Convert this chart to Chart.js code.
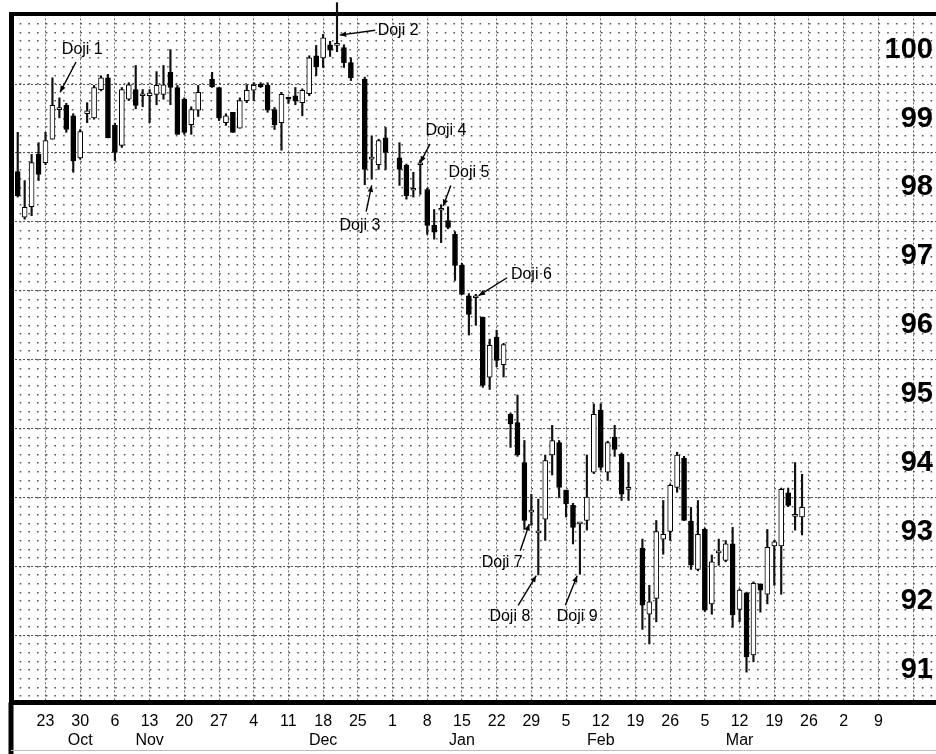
<!DOCTYPE html>
<html><head><meta charset="utf-8">
<script src="https://cdn.jsdelivr.net/npm/chart.js@4/dist/chart.umd.min.js"></script>
<style>html,body{margin:0;padding:0;background:#fff;}canvas{display:block;}</style>
</head><body>
<canvas id="c" width="936" height="754"></canvas>
<script>
// trading-day index (0 = Monday 23 Oct, 5 trading days per week, holidays skipped)
const days = [-4,-3,-2,-1,0,1,2,3,4,5,6,7,8,9,10,11,12,13,14,15,16,17,18,19,20,21,22,
  24,25,26,27,28,29,30,31,32,33,34,35,36,37,38,39,40,41,42,43,44,
  46,47,48,49,51,52,53,54,55,56,57,58,59,60,61,62,63,64,65,66,67,68,69,70,71,72,73,74,75,76,77,78,79,80,81,82,83,84,
  86,87,88,89,90,91,92,93,94,95,96,97,98,99,100,101,102,103,104,105,106,107,108,109];
const opens = [98.23,97.57,97.72,98.48,98.36,98.70,99.13,99.19,99.04,98.43,99.07,99.01,99.42,99.59,98.90,98.61,99.28,99.42,99.33,99.33,99.35,99.35,99.67,99.45,99.28,98.91,99.12,
  99.57,99.45,98.94,99.09,98.86,99.26,99.41,99.50,99.48,99.13,98.94,99.30,99.33,99.23,99.36,99.91,99.88,100.07,100.06,100.03,99.81,
  99.57,98.41,98.33,98.72,98.43,98.32,97.96,98.33,97.97,97.45,97.67,97.52,97.32,96.87,96.43,96.40,96.12,95.25,95.83,95.43,94.71,94.59,94.01,93.29,92.99,93.19,94.12,94.30,93.61,93.39,93.12,93.17,93.87,94.77,93.87,94.38,94.13,93.62,
  92.77,91.81,92.04,92.90,93.01,93.65,94.07,93.16,92.46,93.04,91.96,92.70,92.59,92.83,91.88,92.12,91.22,92.25,92.10,92.80,92.80,93.57,93.23,93.22];
const highs = [98.80,98.10,98.48,98.65,98.80,99.59,99.30,99.22,99.07,98.84,99.23,99.48,99.62,99.64,98.93,99.45,99.52,99.77,99.42,99.42,99.68,99.77,100.00,99.48,99.30,99.17,99.48,
  99.67,99.45,99.07,99.09,99.30,99.49,99.52,99.52,99.52,99.16,99.38,99.31,99.45,99.43,99.91,100.06,100.22,100.12,100.68,100.07,99.88,
  99.60,98.75,98.70,98.87,98.65,98.34,98.22,98.40,97.99,97.68,97.75,97.72,97.36,96.90,96.46,96.45,96.12,95.80,95.93,95.74,94.73,94.99,94.33,93.55,93.48,94.12,94.55,94.33,93.61,93.42,93.14,94.12,94.86,94.86,94.32,94.55,94.15,94.01,
  92.90,92.23,93.17,93.46,93.70,94.16,94.10,93.36,93.46,93.06,92.67,92.90,92.88,93.07,92.18,92.13,92.28,92.25,93.04,92.88,93.64,93.64,94.01,93.84];
const lows = [97.86,97.54,97.59,98.10,98.33,98.70,99.01,98.80,98.22,98.41,98.94,98.99,99.40,98.72,98.39,98.58,99.26,99.14,99.17,98.94,99.20,99.28,99.20,98.77,98.77,98.77,99.03,
  99.45,98.97,98.90,98.80,98.86,99.23,99.26,99.45,99.09,98.84,98.54,99.22,99.20,99.04,99.33,99.62,99.74,99.90,99.97,99.74,99.55,
  98.04,98.12,98.26,98.26,98.03,97.83,97.86,97.90,97.32,97.25,97.20,97.40,96.65,96.45,95.86,96.00,95.10,95.07,95.40,95.25,94.23,94.10,93.04,93.10,92.38,92.88,93.83,93.51,93.22,92.83,92.39,93.03,93.85,93.90,93.75,94.10,93.46,93.46,
  91.59,91.38,91.70,92.68,92.88,93.58,93.17,92.46,92.44,91.85,91.81,92.52,92.57,91.62,91.70,90.97,91.12,91.84,91.96,92.23,92.10,93.37,93.03,92.96];
const closes = [97.88,97.71,98.36,98.19,98.68,99.19,99.13,98.84,98.39,98.81,99.11,99.45,99.59,98.72,98.51,99.42,99.49,99.19,99.33,99.37,99.48,99.49,99.45,98.77,98.80,99.13,99.38,
  99.46,99.01,99.04,98.80,99.26,99.41,99.48,99.46,99.12,98.91,99.35,99.28,99.25,99.41,99.88,99.75,100.17,99.99,100.06,99.81,99.59,
  98.26,98.41,98.68,98.51,98.26,97.88,97.98,98.33,97.45,97.35,97.67,97.42,96.87,96.45,96.16,96.40,95.13,95.71,95.49,95.72,94.57,94.12,93.17,93.29,92.99,94.04,94.33,93.65,93.41,93.07,93.12,93.51,94.71,93.94,94.30,94.20,93.55,93.62,
  91.94,91.99,93.01,92.97,93.68,94.12,93.17,92.52,92.97,91.87,92.57,92.70,92.83,91.80,92.16,91.19,92.26,92.16,92.78,92.86,93.62,93.39,93.23,93.36];

// weekly date labels (one per Monday, every 5 trading days) and month names under some of them
const weekLabels = ['23','30','6','13','20','27','4','11','18','25','1','8','15','22','29','5','12','19','26','5','12','19','26','2','9'];
const monthLabels = ['','Oct','','Nov','','','','','Dec','','','','Jan','','','','Feb','','','','Mar','','','',''];
const priceTicks = [91,92,93,94,95,96,97,98,99,100];

// annotations: [text, textX, textY, arrowFromX, arrowFromY, arrowTipX, arrowTipY] (day index, price)
const dojiNotes = [
  ['Doji 1', 5.3, 100.0, 4.4, 99.82, 2.1, 99.38],
  ['Doji 2', 50.8, 100.27, 47.5, 100.28, 42.4, 100.21],
  ['Doji 3', 45.3, 97.45, 46.2, 97.65, 47.0, 98.03],
  ['Doji 4', 57.7, 98.82, 55.4, 98.63, 54.0, 98.36],
  ['Doji 5', 61.0, 98.21, 58.4, 98.03, 57.3, 97.73],
  ['Doji 6', 70.0, 96.73, 66.5, 96.69, 62.4, 96.43],
  ['Doji 7', 65.8, 92.56, 68.4, 92.73, 69.7, 93.12],
  ['Doji 8', 66.9, 91.77, 68.1, 91.94, 70.7, 92.37],
  ['Doji 9', 76.6, 91.77, 74.9, 91.94, 76.6, 92.37]
];

const X_MIN = -4.97, X_MAX = 128.3, Y_MIN = 90.53, Y_MAX = 100.51;
const weekTicks = []; for (let k = -1; k <= 25; k++) weekTicks.push(k * 5);
const halfTicks = []; for (let v = 90.5; v <= 100.5; v += 1) halfTicks.push(v);
const eighthTicks = []; for (let k = Math.ceil(Y_MIN * 8); k <= Math.floor(Y_MAX * 8); k++) eighthTicks.push(k / 8);

const FONT = '"Liberation Sans", Arial, sans-serif';

const wickData = days.map((d, k) => ({x: d, y: [lows[k], highs[k]]}));
const bodyData = days.map((d, k) => ({x: d, y: [opens[k], closes[k]], up: closes[k] >= opens[k]}));

const decor = {
  id: 'decor',
  afterDraw(chart) {
    const {ctx, chartArea} = chart;
    ctx.save();
    ctx.fillStyle = '#000';
    ctx.fillRect(chartArea.left - 2.5, chartArea.bottom, 5, chart.height - chartArea.bottom);
    ctx.strokeStyle = '#bbb'; ctx.lineWidth = 1;
    ctx.beginPath(); ctx.moveTo(chartArea.left, 750.5); ctx.lineTo(chart.width, 750.5); ctx.stroke();
    // annotations
    const xs = chart.scales.x, ys = chart.scales.y;
    ctx.font = '16px ' + FONT;
    ctx.fillStyle = '#000'; ctx.strokeStyle = '#000';
    ctx.textAlign = 'center'; ctx.textBaseline = 'middle';
    dojiNotes.forEach(n => {
      const tx = xs.getPixelForValue(n[1]), ty = ys.getPixelForValue(n[2]);
      const fx = xs.getPixelForValue(n[3]), fy = ys.getPixelForValue(n[4]);
      const px = xs.getPixelForValue(n[5]), py = ys.getPixelForValue(n[6]);
      ctx.fillText(n[0], tx, ty);
      ctx.lineWidth = 1.4;
      ctx.beginPath(); ctx.moveTo(fx, fy); ctx.lineTo(px, py); ctx.stroke();
      const a = Math.atan2(py - fy, px - fx), L = 7, W = 0.4;
      ctx.beginPath();
      ctx.moveTo(px, py);
      ctx.lineTo(px - L * Math.cos(a - W), py - L * Math.sin(a - W));
      ctx.lineTo(px - L * Math.cos(a + W), py - L * Math.sin(a + W));
      ctx.closePath(); ctx.fill();
    });
    ctx.restore();
  }
};

const hidden = {display: false};
new Chart(document.getElementById('c'), {
  type: 'bar',
  data: {
    datasets: [
      {label: 'range', data: wickData, backgroundColor: '#111', borderWidth: 0, barThickness: 1.5,
       grouped: false, order: 2, clip: false, xAxisID: 'x', yAxisID: 'y'},
      {label: 'body', data: bodyData, backgroundColor: c => (c.raw && c.raw.up) ? '#fff' : '#000',
       borderColor: '#000', borderWidth: 1, borderSkipped: false, barThickness: 5, minBarLength: 2,
       grouped: false, order: 1, xAxisID: 'x', yAxisID: 'y'}
    ]
  },
  options: {
    responsive: false, animation: false, devicePixelRatio: 1,
    layout: {padding: {left: 11, top: 12, right: 0, bottom: 0}},
    plugins: {legend: hidden, tooltip: {enabled: false}},
    scales: {
      x: {
        type: 'linear', position: 'bottom', min: X_MIN, max: X_MAX, offset: false,
        afterBuildTicks: a => { a.ticks = weekTicks.map(v => ({value: v})); },
        afterFit: a => { a.height = 51.5; },
        ticks: {
          autoSkip: false, maxRotation: 0, minRotation: 0, padding: 9, color: '#000',
          font: {family: FONT, size: 16},
          callback: v => {
            const k = Math.round(v / 5);
            if (k < 0 || k >= weekLabels.length) return '';
            return [weekLabels[k], monthLabels[k]];
          }
        },
        grid: {offset: false, color: '#666', lineWidth: 1, drawTicks: false},
        border: {display: true, color: '#000', width: 5, dash: [2, 2]}
      },
      xTop: {
        type: 'linear', position: 'top', min: X_MIN, max: X_MAX,
        afterFit: a => { a.height = 0; },
        ticks: {display: false}, grid: {display: false, drawTicks: false},
        border: {display: true, color: '#000', width: 4}
      },
      y: {
        type: 'linear', position: 'right', min: Y_MIN, max: Y_MAX,
        afterBuildTicks: a => { a.ticks = priceTicks.map(v => ({value: v})); },
        afterFit: a => { a.width = 0; },
        ticks: {mirror: true, padding: -3, color: '#000', font: {family: FONT, size: 29, weight: 'bold'},
                callback: v => String(v)},
        grid: {display: false, drawTicks: false},
        border: {display: false}
      },
      yMinor: {
        type: 'linear', position: 'left', min: Y_MIN, max: Y_MAX,
        afterBuildTicks: a => { a.ticks = eighthTicks.map(v => ({value: v})); },
        afterFit: a => { a.width = 0; },
        ticks: {display: false},
        grid: {color: '#555', lineWidth: 1.6, drawTicks: false},
        border: {display: false, dash: [1.6, 7.075], dashOffset: 0}
      },
      yMajor: {
        type: 'linear', position: 'left', min: Y_MIN, max: Y_MAX,
        afterBuildTicks: a => { a.ticks = halfTicks.map(v => ({value: v})); },
        afterFit: a => { a.width = 0; },
        ticks: {display: false},
        grid: {color: '#555', lineWidth: 1, drawTicks: false},
        border: {display: false, dash: [2, 2]}
      },
      yFrame: {
        type: 'linear', position: 'left', min: Y_MIN, max: Y_MAX,
        afterFit: a => { a.width = 0; },
        ticks: {display: false}, grid: {display: false, drawTicks: false},
        border: {display: true, color: '#000', width: 5}
      }
    }
  },
  plugins: [decor]
});
</script>
</body></html>
